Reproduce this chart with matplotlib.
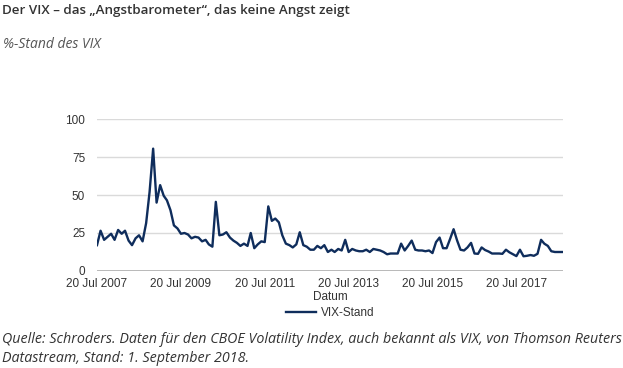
import pandas as pd
import matplotlib
matplotlib.use("Agg")
import matplotlib.pyplot as plt
import matplotlib.dates as mdates

# VIX level on the 20th of each month, Jul 2007 - Aug 2018
vix = [
    17, 26.5, 20.5, 22.5, 24.5, 20.5,
    27, 24.5, 26.5, 20, 17, 21.5, 23.5, 19.5, 31.5, 52, 80.5, 45,
    56.5, 49.5, 46.5, 40, 30, 28, 24.5, 25, 24, 21.5, 22.5, 22,
    19.5, 20.5, 17.5, 16, 45.5, 23.5, 24, 25.5, 22, 20, 18.5, 16.5,
    18, 16.5, 25, 15, 17.5, 19.5, 19, 42.5, 33, 34.5, 32, 23.5,
    18, 17, 15.5, 17.5, 25.5, 17, 16, 14, 14, 16.5, 15, 17,
    12.5, 14, 12.5, 14.5, 13.5, 20.5, 12.5, 14.5, 13.5, 13, 13, 14,
    12.5, 14.5, 14, 13.5, 12.5, 11, 11.5, 11.5, 11.5, 18, 13.5, 16.5,
    20, 14, 13.5, 13.5, 13, 13.5, 11.8, 19, 22, 15, 15, 21,
    27.5, 20, 14, 13.5, 15.5, 18.5, 11.5, 11.3, 15.5, 13.8, 12.8, 11.5,
    11.5, 11.5, 11.3, 14, 12.3, 11, 9.8, 14, 9.7, 10, 10.5, 10,
    11.3, 20.5, 18, 16.5, 13, 12.5, 12.5, 12.5,
]
dates = pd.date_range("2007-07-20", periods=len(vix), freq=pd.DateOffset(months=1))
tick_dates = pd.to_datetime(["2007-07-20", "2009-07-20", "2011-07-20",
                             "2013-07-20", "2015-07-20", "2017-07-20"])
y_ticks = [0, 25, 50, 75, 100]

fig = plt.figure(figsize=(6.23, 3.68), dpi=100)
ax = fig.add_axes([0.1557, 0.2636, 0.748, 0.413])

ax.plot(dates, vix, color="#0f2d5c", linewidth=1.7, label="VIX-Stand")

ax.set_ylim(0, 100)
ax.set_yticks(y_ticks)
ax.set_xlim(dates[0], dates[-1] + pd.Timedelta(days=10))
ax.set_xticks(tick_dates)
ax.xaxis.set_major_formatter(mdates.DateFormatter("%d %b %Y"))

for v in y_ticks[1:]:
    ax.axhline(v, color="#dadada", linewidth=1, zorder=0)
ax.axhline(0, color="#b3b3b3", linewidth=1.3, zorder=0)

for s in ax.spines.values():
    s.set_visible(False)
ax.tick_params(length=0, labelsize=8.5, colors="#333333")
ax.tick_params(axis="x", pad=5)
ax.tick_params(axis="y", pad=8.5)
for lab in ax.get_xticklabels() + ax.get_yticklabels():
    lab.set_family("Liberation Sans")

ax.set_xlabel("Datum", fontsize=8.5, color="#333333", family="Liberation Sans", labelpad=1)
leg = ax.legend(loc="upper center", bbox_to_anchor=(0.5, -0.205), frameon=False,
                prop={"family": "Liberation Sans", "size": 8.5},
                handlelength=2.6, handletextpad=0.4, borderaxespad=0)
for t in leg.get_texts():
    t.set_color("#333333")

fig.text(0.003, 0.972, "Der VIX \u2013 das \u201eAngstbarometer\u201c, das keine Angst zeigt",
         fontsize=9.6, family="Open Sans", weight="semibold", color="#333333", va="center")
fig.text(0.005, 0.878, "%-Stand des VIX", fontsize=10, family="Open Sans",
         style="italic", color="#555555", va="center")
fig.text(0.003, 0.077, "Quelle: Schroders. Daten f\u00fcr den CBOE Volatility Index, auch bekannt als VIX, von Thomson Reuters",
         fontsize=10.3, family="Open Sans", style="italic", color="#333333", va="center")
fig.text(0.003, 0.027, "Datastream, Stand: 1. September 2018.",
         fontsize=10.3, family="Open Sans", style="italic", color="#333333", va="center")

fig.savefig("out.png", dpi=100)
